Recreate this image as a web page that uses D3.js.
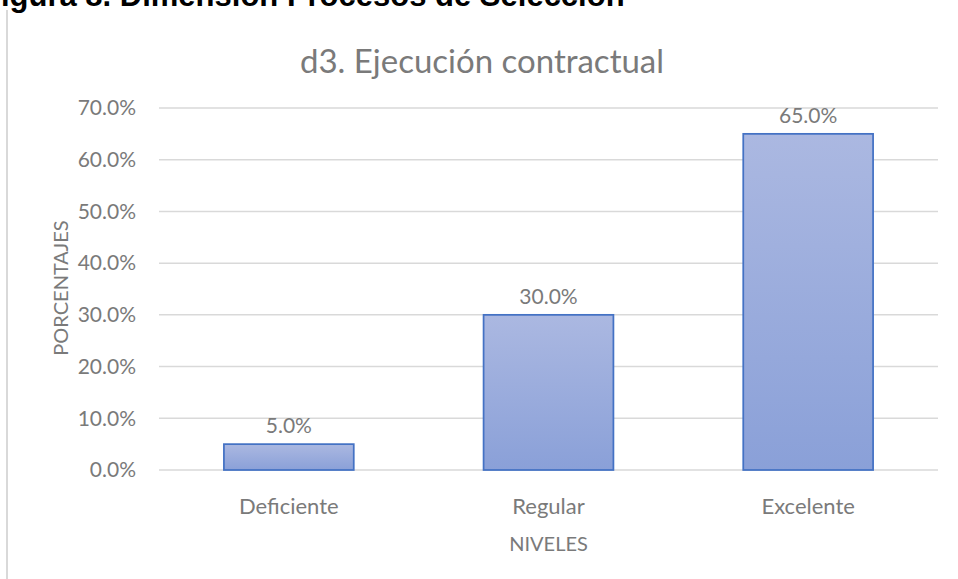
<!DOCTYPE html>
<html>
<head>
<meta charset="utf-8">
<script src="https://cdn.jsdelivr.net/npm/d3@7"></script>
<style>
  body { margin: 0; background: #fff; }
  svg { display: block; }
</style>
</head>
<body>
<div class="holder"></div>
<script>
// chart data
const niveles = ["Deficiente", "Regular", "Excelente"];
const porcentajes = [5.0, 30.0, 65.0];
const yTicks = [0, 10, 20, 30, 40, 50, 60, 70];

const width = 958;
const height = 579;
const margin = { top: 108, right: 20, bottom: 109, left: 159 };

const svg = d3
  .select(".holder")
  .append("svg")
  .attr("width", width)
  .attr("height", height);

// gradient for the bars
const grad = svg
  .append("defs")
  .append("linearGradient")
  .attr("id", "barGrad")
  .attr("x1", 0)
  .attr("y1", 0)
  .attr("x2", 0)
  .attr("y2", 1);
grad.append("stop").attr("offset", "0%").attr("stop-color", "#abb8e1");
grad.append("stop").attr("offset", "100%").attr("stop-color", "#8aa0d8");

// caption cut off at the top of the page
svg
  .append("text")
  .attr("x", -18)
  .attr("y", 6)
  .style("font-family", "Liberation Sans, Arial, sans-serif")
  .style("font-weight", "bold")
  .style("font-size", "31px")
  .attr("fill", "#000")
  .text("Figura 8. Dimensión Procesos de Selección");

// left border line of the chart box
svg
  .append("line")
  .attr("x1", 7)
  .attr("x2", 7)
  .attr("y1", 10)
  .attr("y2", height)
  .attr("stroke", "#d9d9d9")
  .attr("stroke-width", 2);

const xScale = d3
  .scaleBand()
  .domain(niveles)
  .range([margin.left, width - margin.right])
  .paddingInner(0.5)
  .paddingOuter(0.25);

const yScale = d3
  .scaleLinear()
  .domain([0, 70])
  .range([height - margin.bottom, margin.top]);

const font = "Lato, 'Open Sans', sans-serif";
const gray = "#7a7a7a";

// gridlines
svg
  .append("g")
  .selectAll("line")
  .data(yTicks)
  .enter()
  .append("line")
  .attr("x1", margin.left)
  .attr("x2", width - margin.right)
  .attr("y1", (d) => yScale(d))
  .attr("y2", (d) => yScale(d))
  .attr("stroke", "#d9d9d9")
  .attr("stroke-width", 1.5);

// y axis labels
const yAxis = d3
  .axisLeft(yScale)
  .tickValues(yTicks)
  .tickSize(0)
  .tickPadding(23)
  .tickFormat((d) => d.toFixed(1) + "%");

svg
  .append("g")
  .attr("transform", `translate(${margin.left}, 0)`)
  .call(yAxis)
  .call((g) => g.select(".domain").remove())
  .selectAll("text")
  .style("font-family", font)
  .style("font-size", "21px")
  .attr("fill", gray);

// x axis labels
const xAxis = d3.axisBottom(xScale).tickSize(0).tickPadding(28);

svg
  .append("g")
  .attr("transform", `translate(0, ${height - margin.bottom})`)
  .call(xAxis)
  .call((g) => g.select(".domain").remove())
  .selectAll("text")
  .style("font-family", font)
  .style("font-size", "22px")
  .attr("fill", gray);

// bars
svg
  .append("g")
  .selectAll("rect")
  .data(porcentajes)
  .enter()
  .append("rect")
  .attr("x", (d, i) => xScale(niveles[i]))
  .attr("y", (d) => yScale(d))
  .attr("width", xScale.bandwidth())
  .attr("height", (d) => yScale(0) - yScale(d))
  .attr("fill", "url(#barGrad)")
  .attr("stroke", "#4472c4")
  .attr("stroke-width", 1.75);

// value labels
svg
  .append("g")
  .selectAll("text")
  .data(porcentajes)
  .enter()
  .append("text")
  .attr("x", (d, i) => xScale(niveles[i]) + xScale.bandwidth() / 2)
  .attr("y", (d) => yScale(d) - 11)
  .attr("text-anchor", "middle")
  .style("font-family", font)
  .style("font-size", "21px")
  .attr("fill", gray)
  .text((d) => d.toFixed(1) + "%");

// title, centred on the chart box
svg
  .append("text")
  .attr("x", 482)
  .attr("y", 73)
  .attr("text-anchor", "middle")
  .style("font-family", font)
  .style("font-size", "33px")
  .attr("fill", gray)
  .text("d3. Ejecución contractual");

// axis titles
svg
  .append("text")
  .attr("x", (margin.left + width - margin.right) / 2)
  .attr("y", 551)
  .attr("text-anchor", "middle")
  .style("font-family", font)
  .style("font-size", "20px")
  .attr("fill", gray)
  .text("NIVELES");

svg
  .append("text")
  .attr("transform", `translate(68, ${yScale(35) - 1}) rotate(-90)`)
  .attr("text-anchor", "middle")
  .style("font-family", font)
  .style("font-size", "20px")
  .attr("fill", gray)
  .text("PORCENTAJES");
</script>
</body>
</html>
